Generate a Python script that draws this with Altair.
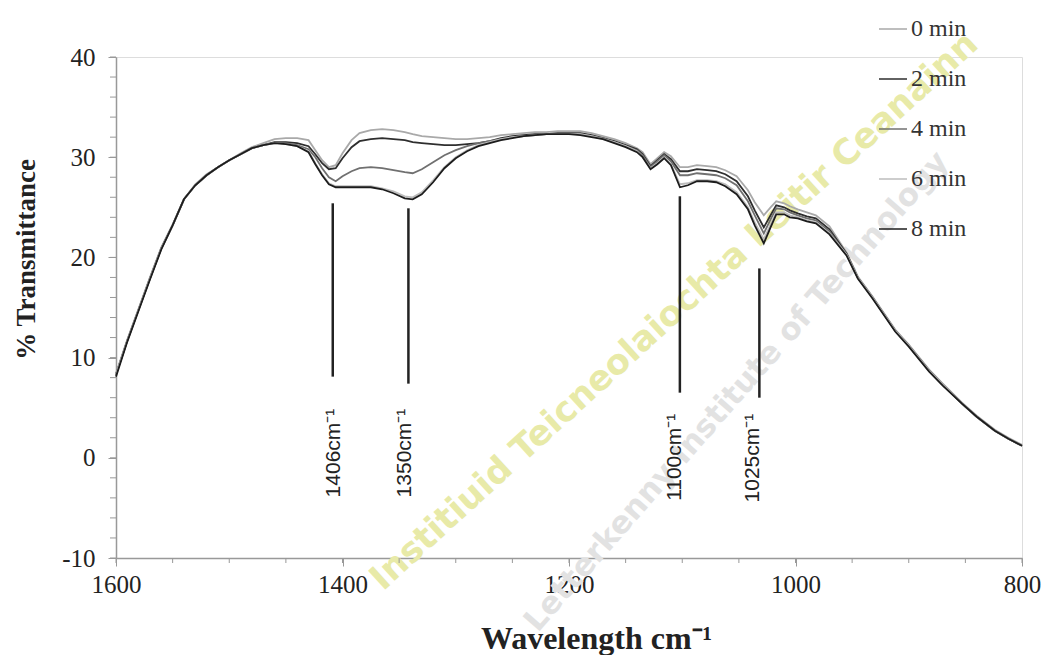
import altair as alt
import pandas as pd

# ---------------- data ----------------
wavenumber = [1600, 1590, 1580, 1570, 1560, 1550, 1540, 1530, 1520, 1510, 1500, 1490, 1480, 1470, 1460, 1450,
              1440, 1430, 1424, 1418, 1412, 1406, 1400, 1392, 1385,
              1375, 1365, 1355, 1345, 1338, 1330, 1320, 1310, 1300,
              1290, 1280, 1270, 1260, 1250, 1240, 1230, 1220, 1210, 1200, 1190, 1180, 1170, 1160, 1150, 1140,
              1135, 1128, 1122, 1116, 1110, 1102, 1095, 1087, 1078, 1070, 1062, 1052, 1042, 1036, 1028, 1022,
              1017, 1010, 1005, 998, 990, 982, 970,
              955, 945, 932, 912, 900, 882, 870, 853, 840, 824, 812, 800]

t0 = [8.4, 11.8, 14.9, 18.0, 21.0, 23.3, 25.8, 27.3, 28.3, 29.0, 29.7, 30.4, 31.0, 31.4, 31.8, 31.9,
      31.9, 31.7, 30.7, 29.7, 29.0, 29.2, 30.4, 31.7, 32.4,
      32.7, 32.8, 32.7, 32.5, 32.3, 32.1, 32.0, 31.9, 31.8,
      31.8, 31.9, 32.0, 32.2, 32.3, 32.4, 32.5, 32.5, 32.6, 32.6, 32.6, 32.4, 32.1, 31.8, 31.4, 30.9,
      30.5, 29.3, 29.9, 30.5, 30.1, 29.0, 29.0, 29.2, 29.1, 29.0, 28.7, 28.1, 26.7, 25.5, 24.2, 25.0,
      25.6, 25.4, 25.1, 24.8, 24.5, 24.2, 23.1,
      20.5, 18.1, 16.1, 12.8, 11.3, 8.8, 7.4, 5.5, 4.2, 2.8, 2.0, 1.3]

t2 = [8.3, 11.7, 14.8, 17.9, 20.9, 23.2, 25.8, 27.2, 28.2, 29.0, 29.7, 30.3, 30.9, 31.2, 31.5, 31.5,
      31.4, 31.1, 30.3, 29.4, 28.8, 28.9, 29.9, 31.0, 31.6,
      31.8, 31.9, 31.8, 31.7, 31.5, 31.4, 31.3, 31.2, 31.2,
      31.3, 31.4, 31.6, 31.9, 32.1, 32.2, 32.3, 32.3, 32.4, 32.4, 32.4, 32.2, 31.9, 31.6, 31.2, 30.8,
      30.3, 29.1, 29.7, 30.3, 29.8, 28.6, 28.6, 28.8, 28.7, 28.6, 28.3, 27.6, 26.1, 24.7, 23.0, 24.2,
      25.2, 25.0, 24.7, 24.4, 24.1, 23.9, 22.8,
      20.4, 18.0, 16.0, 12.7, 11.2, 8.7, 7.3, 5.4, 4.1, 2.7, 1.9, 1.2]

t4 = [8.3, 11.7, 14.8, 17.9, 20.9, 23.2, 25.8, 27.2, 28.2, 29.0, 29.7, 30.3, 30.9, 31.2, 31.4, 31.4,
      31.2, 30.8, 30.0, 28.9, 28.0, 27.6, 28.1, 28.6, 28.9,
      29.0, 28.9, 28.7, 28.5, 28.4, 28.8, 29.5, 30.2, 30.7,
      31.1, 31.4, 31.6, 31.8, 32.0, 32.1, 32.2, 32.3, 32.3, 32.3, 32.3, 32.1, 31.9, 31.5, 31.1, 30.7,
      30.2, 29.0, 29.6, 30.2, 29.6, 28.2, 28.2, 28.4, 28.3, 28.2, 27.9, 27.2, 25.6, 24.2, 22.4, 23.8,
      24.9, 24.8, 24.5, 24.2, 23.9, 23.7, 22.6,
      20.3, 18.0, 16.0, 12.7, 11.2, 8.7, 7.3, 5.4, 4.1, 2.7, 1.9, 1.2]

t6 = [8.3, 11.7, 14.8, 17.9, 20.9, 23.2, 25.8, 27.2, 28.2, 29.0, 29.7, 30.3, 30.9, 31.2, 31.4, 31.3,
      31.1, 30.6, 29.4, 28.3, 27.4, 27.1, 27.1, 27.1, 27.1,
      27.1, 26.9, 26.6, 26.1, 26.0, 26.5, 27.7, 29.0, 30.0,
      30.7, 31.2, 31.5, 31.8, 32.0, 32.1, 32.2, 32.3, 32.3, 32.3, 32.3, 32.1, 31.8, 31.5, 31.1, 30.6,
      30.0, 28.9, 29.4, 30.0, 29.3, 27.3, 27.4, 27.7, 27.7, 27.6, 27.3, 26.5, 25.0, 23.5, 21.8, 23.3,
      24.5, 24.5, 24.2, 24.0, 23.7, 23.5, 22.4,
      20.3, 18.0, 16.0, 12.7, 11.2, 8.7, 7.3, 5.4, 4.1, 2.7, 1.9, 1.2]

t8 = [8.1, 11.6, 14.7, 17.8, 20.8, 23.2, 25.8, 27.2, 28.2, 29.0, 29.7, 30.3, 30.9, 31.2, 31.4, 31.3,
      31.1, 30.5, 29.3, 28.2, 27.3, 27.0, 27.0, 27.0, 27.0,
      27.0, 26.8, 26.4, 25.9, 25.8, 26.3, 27.5, 28.9, 29.9,
      30.6, 31.1, 31.4, 31.7, 31.9, 32.1, 32.2, 32.3, 32.3, 32.3, 32.2, 32.0, 31.8, 31.4, 31.0, 30.5,
      30.0, 28.8, 29.3, 29.9, 29.2, 27.0, 27.2, 27.6, 27.6, 27.5, 27.1, 26.3, 24.8, 23.2, 21.4, 23.0,
      24.3, 24.3, 24.0, 23.9, 23.6, 23.4, 22.3,
      20.2, 17.9, 15.9, 12.6, 11.1, 8.6, 7.2, 5.4, 4.1, 2.7, 1.9, 1.2]

series_names = ["0 min", "2 min", "4 min", "6 min", "8 min"]
series_colors = ["#a9a9a9", "#2e2e2e", "#707070", "#bcbcbc", "#1c1c1c"]

peak_labels = ["1406cm\u207b\u00b9", "1350cm\u207b\u00b9", "1100cm\u207b\u00b9", "1025cm\u207b\u00b9"]
peak_line_x = [1408.6, 1341.8, 1102.1, 1031.9]
peak_line_top = [25.4, 24.9, 26.1, 18.9]
peak_line_bottom = [8.1, 7.4, 6.5, 6.0]
peak_label_x = [1407.7, 1344.5, 1106.5, 1037.2]
peak_label_top = [4.9, 4.9, 4.4, 4.4]

x_major = [1600, 1400, 1200, 1000, 800]
x_minor = list(range(800, 1601, 50))
y_major = [-10, 0, 10, 20, 30, 40]
y_minor = list(range(-10, 41, 2))

watermarks = ["Institiuid Teicneolaiochta Leitir Ceanainn", "Letterkenny Institute of Technology"]

# ---------------- build tables ----------------
rows = []
for name, vals in zip(series_names, [t0, t2, t4, t6, t8]):
    assert len(vals) == len(wavenumber)
    for w, v in zip(wavenumber, vals):
        rows.append({"wn": w, "T": v, "series": name})
df = pd.DataFrame(rows)

peaks_line_df = pd.DataFrame({"wn": peak_line_x, "T": peak_line_top, "T2": peak_line_bottom})
peaks_text_df = pd.DataFrame({"wn": peak_label_x, "T": peak_label_top, "label": peak_labels})
xminor_df = pd.DataFrame({"wn": x_minor})
yminor_df = pd.DataFrame({"T": y_minor})

W, H = 906, 501
SERIF = "Liberation Serif"
xscale = alt.Scale(domain=[800, 1600], reverse=True, nice=False, zero=False)
yscale = alt.Scale(domain=[-10, 40], nice=False, zero=False)

x_axis = alt.Axis(
    values=x_major, labelExpr="'' + datum.value", orient="bottom", grid=False,
    tickSize=8, tickColor="#999", domainColor="#999", domainWidth=1.5,
    labelFont=SERIF, labelFontSize=25, labelColor="#222", labelPadding=6, labelFlush=False,
    title="Wavelength cm\u207b\u00b9", titleFont=SERIF, titleFontSize=32, titleFontWeight="bold",
    titleColor="#222", titleX=480, titleY=90, titleAlign="center", titleBaseline="alphabetic")
y_axis = alt.Axis(
    values=y_major, labelExpr="'' + datum.value", orient="left", grid=False,
    tickSize=8, tickColor="#999", domainColor="#999", domainWidth=1.5,
    labelFont=SERIF, labelFontSize=25, labelColor="#222", labelPadding=13,
    title="% Transmittance", titleFont=SERIF, titleFontSize=27, titleFontWeight="bold",
    titleColor="#222", titleAngle=270, titleX=-82, titleY=202,
    titleAlign="center", titleBaseline="alphabetic")

X = alt.X("wn:Q", scale=xscale, axis=x_axis)
Y = alt.Y("T:Q", scale=yscale, axis=y_axis)

lines = alt.Chart(df).mark_line(strokeWidth=1.8).encode(
    x=X, y=Y,
    color=alt.Color("series:N", scale=alt.Scale(domain=series_names, range=series_colors),
                    legend=alt.Legend(title=None, orient="none", legendX=762, legendY=-43,
                                      symbolType="stroke", symbolSize=784, symbolStrokeWidth=1.5,
                                      labelFont=SERIF, labelFontSize=24, labelColor="#333",
                                      rowPadding=23, labelOffset=3, padding=0)),
    order=alt.Order("wn:Q"),
)

# minor tick marks along both axes
xminor_ticks = alt.Chart(xminor_df).mark_rule(color="#999", strokeWidth=1).encode(
    x=X, y=alt.value(H), y2=alt.value(H + 5),
)
yminor_ticks = alt.Chart(yminor_df).mark_rule(color="#999", strokeWidth=1).encode(
    y=Y, x=alt.value(-6), x2=alt.value(0),
)

peak_rules = alt.Chart(peaks_line_df).mark_rule(color="#222", strokeWidth=2.5).encode(
    x=X, y=Y, y2="T2:Q",
)

peak_text = alt.Chart(peaks_text_df).mark_text(
    angle=270, align="right", baseline="middle", font="Liberation Sans", fontSize=21, color="#222"
).encode(x=X, y=Y, text="label:N")

wm1 = alt.Chart(pd.DataFrame({"t": [watermarks[0]]})).mark_text(
    angle=317.6, font="DejaVu Sans", fontSize=35, fontWeight="bold", color="#e8eaa8"
).encode(x=alt.value(558), y=alt.value(254), text="t:N")

wm2 = alt.Chart(pd.DataFrame({"t": [watermarks[1]]})).mark_text(
    angle=311.2, font="DejaVu Sans", fontSize=31, fontWeight="bold", color="#e2e2e2"
).encode(x=alt.value(621), y=alt.value(335), text="t:N")

chart = alt.layer(wm1, wm2, xminor_ticks, yminor_ticks, peak_rules, peak_text, lines).properties(
    width=W, height=H,
    autosize=alt.AutoSizeParams(type="none"),
    padding={"left": 108, "top": 49, "right": 20, "bottom": 97},
).configure_view(stroke=None).configure(background="white")

chart.save("out.html", embed_options={"renderer": "svg", "actions": False})
